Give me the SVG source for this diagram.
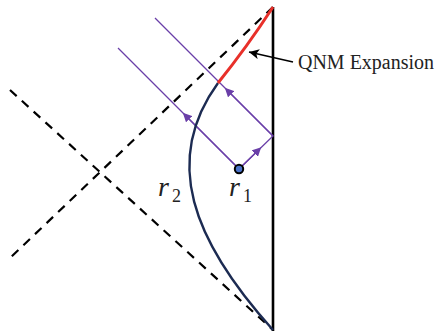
<svg xmlns="http://www.w3.org/2000/svg" width="436" height="333" viewBox="0 0 436 333">
<style>
.dash{fill:none;stroke:#000;stroke-width:2.2;stroke-dasharray:9 7}
.ray{fill:none;stroke:#6a3fa8;stroke-width:1.3}
.lbl{font-family:"Liberation Serif","DejaVu Serif",serif;fill:#222}
</style>
<defs>
<marker id="pa" viewBox="0 0 10 10" refX="5" refY="5" markerWidth="9" markerHeight="9" markerUnits="userSpaceOnUse" orient="auto">
<path d="M0,0 L10,5 L0,10 Z" fill="#6a3fa8"/>
</marker>
<marker id="ba" viewBox="0 0 10 10" refX="10" refY="5" markerWidth="11" markerHeight="10" markerUnits="userSpaceOnUse" orient="auto">
<path d="M0,0 L10,5 L0,10 L2.5,5 Z" fill="#000"/>
</marker>
</defs>
<rect width="436" height="333" fill="#fff"/>
<g id="horizons">
<line class="dash" x1="273" y1="7" x2="10" y2="258"/>
<line class="dash" x1="10" y1="90" x2="273" y2="330"/>
</g>
<g id="boundary">
<line x1="273" y1="7" x2="273" y2="331" stroke="#000" stroke-width="2.6"/>
</g>
<g id="connectors">
<path class="ray" d="M239,169 L273,136 L155,18"/>
<path class="ray" d="M118,48 L239,169"/>
<path class="ray" d="M239,169 L258,150.5" marker-end="url(#pa)"/>
<path class="ray" d="M273,136 L228,91" marker-end="url(#pa)"/>
<path class="ray" d="M239,169 L186,116" marker-end="url(#pa)"/>
<line x1="293" y1="62" x2="249" y2="52" stroke="#000" stroke-width="1.6" marker-end="url(#ba)"/>
</g>
<g id="trajectory">
<path d="M273,330 C192,240 162,160 218,83" fill="none" stroke="#1c2b52" stroke-width="2.4"/>
<path d="M218,83 Q247,47 273,7" fill="none" stroke="#e8302a" stroke-width="3"/>
</g>
<g id="r1">
<circle cx="239" cy="169" r="4.2" fill="#4a72c8" stroke="#000" stroke-width="2"/>
<text class="lbl" x="229" y="196" font-size="28" font-style="italic">r</text>
<text class="lbl" x="243" y="202" font-size="18">1</text>
</g>
<g id="r2">
<text class="lbl" x="158" y="196" font-size="28" font-style="italic">r</text>
<text class="lbl" x="172" y="202" font-size="18">2</text>
</g>
<g id="qnm">
<text class="lbl" x="298" y="69" font-size="20.5" textLength="136" lengthAdjust="spacingAndGlyphs">QNM Expansion</text>
</g>
</svg>
